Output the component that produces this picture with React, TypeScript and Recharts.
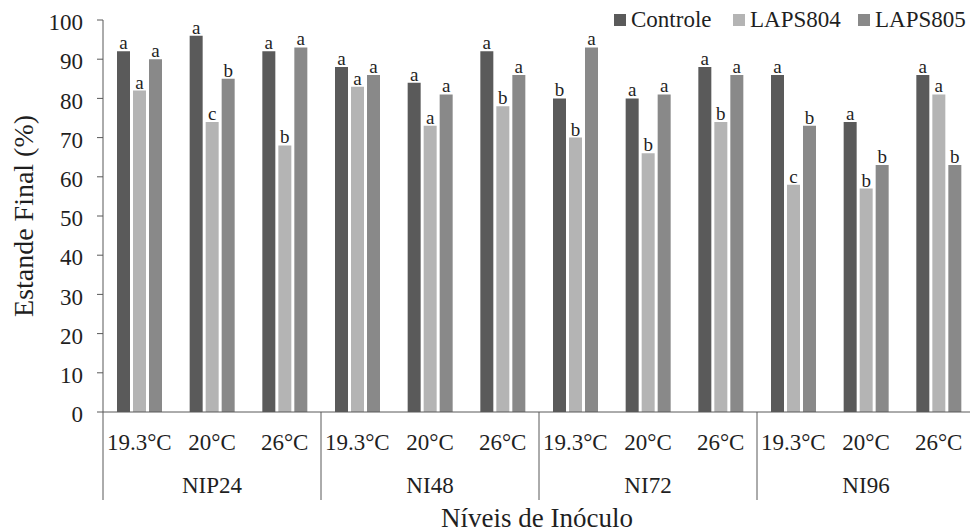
import React from 'react';
import { BarChart, Bar, XAxis, YAxis, LabelList } from 'recharts';

// Temperatures repeated inside each inoculum level
const temperatures = ['19.3°C', '20°C', '26°C'];
const inoculumLevels = ['NIP24', 'NI48', 'NI72', 'NI96'];

// Final stand (%) per treatment, in level/temperature order
const controle = [92, 96, 92, 88, 84, 92, 80, 80, 88, 86, 74, 86];
const laps804 = [82, 74, 68, 83, 73, 78, 70, 66, 74, 58, 57, 81];
const laps805 = [90, 85, 93, 86, 81, 86, 93, 81, 86, 73, 63, 63];

// Significance letters shown above each bar
const controleLetters = ['a', 'a', 'a', 'a', 'a', 'a', 'b', 'a', 'a', 'a', 'a', 'a'];
const laps804Letters = ['a', 'c', 'b', 'a', 'a', 'b', 'b', 'b', 'b', 'c', 'b', 'a'];
const laps805Letters = ['a', 'b', 'a', 'a', 'a', 'a', 'a', 'a', 'a', 'b', 'b', 'b'];

const yTicks = [0, 10, 20, 30, 40, 50, 60, 70, 80, 90, 100];

const series = [
  { key: 'controle', name: 'Controle', color: '#5a5a5a', letters: controleLetters },
  { key: 'laps804', name: 'LAPS804', color: '#b4b4b4', letters: laps804Letters },
  { key: 'laps805', name: 'LAPS805', color: '#898989', letters: laps805Letters },
];

const data = inoculumLevels.flatMap((level, li) =>
  temperatures.map((temp, ti) => {
    const i = li * temperatures.length + ti;
    return {
      id: `${level}-${temp}`,
      level,
      temp,
      controle: controle[i],
      laps804: laps804[i],
      laps805: laps805[i],
    };
  })
);

const FONT = '"Liberation Serif", "Times New Roman", serif';
const TEXT = '#1f1f1f';
const AXIS = '#595959';

const CHART_W = 970;
const CHART_H = 524;
const MARGIN = { top: 12, right: 3, left: 0, bottom: 0 };
const Y_AXIS_W = 95;
const X_AXIS_H = 120;
const PLOT_W = CHART_W - MARGIN.left - MARGIN.right - Y_AXIS_W;
const BAND = PLOT_W / data.length;

const CategoryTick = (props: any) => {
  const { x, y, payload } = props;
  const index = payload.index;
  const row = data[index];
  const pos = index % temperatures.length;
  const half = BAND / 2;
  return (
    <g>
      <text x={x} y={y + 38} textAnchor="middle" fontFamily={FONT} fontSize={23} fill={TEXT}>
        {row.temp}
      </text>
      {pos === 1 && (
        <text x={x} y={y + 81} textAnchor="middle" fontFamily={FONT} fontSize={23} fill={TEXT}>
          {row.level}
        </text>
      )}
      {pos === 0 && <line x1={x - half} x2={x - half} y1={y} y2={y + 88} stroke={AXIS} strokeWidth={1} />}
      {index === data.length - 1 && (
        <line x1={x + half} x2={x + half} y1={y} y2={y + 88} stroke={AXIS} strokeWidth={1} />
      )}
    </g>
  );
};

const makeLetterLabel = (letters: string[]) => (props: any) => {
  const { x, y, width, index } = props;
  return (
    <text x={x + width / 2} y={y - 2} textAnchor="middle" fontFamily={FONT} fontSize={19} fill={TEXT}>
      {letters[index]}
    </text>
  );
};

const YTitle = (props: any) => {
  const { viewBox } = props;
  const cx = viewBox.x + 15;
  const cy = viewBox.y + viewBox.height / 2;
  return (
    <text
      x={cx}
      y={cy}
      transform={`rotate(-90, ${cx}, ${cy})`}
      textAnchor="middle"
      dominantBaseline="central"
      fontFamily={FONT}
      fontSize={28}
      fill={TEXT}
    >
      Estande Final (%)
    </text>
  );
};

const XTitle = (props: any) => {
  const { viewBox } = props;
  const cx = viewBox.x + viewBox.width / 2;
  return (
    <text x={cx - 2} y={viewBox.y + 115} textAnchor="middle" fontFamily={FONT} fontSize={27} fill={TEXT}>
      Níveis de Inóculo
    </text>
  );
};

const legendPos = [606, 725, 850];

export default function App() {
  return (
    <div style={{ position: 'relative', width: CHART_W, height: CHART_H, fontFamily: FONT }}>
      <BarChart
        width={CHART_W}
        height={CHART_H}
        data={data}
        margin={MARGIN}
        barSize={13}
        barGap={3}
      >
        <XAxis
          dataKey="id"
          interval={0}
          height={X_AXIS_H}
          tickSize={0}
          tickMargin={0}
          tickLine={false}
          axisLine={{ stroke: AXIS, strokeWidth: 1 }}
          tick={<CategoryTick />}
          label={XTitle}
        />
        <YAxis
          domain={[0, 100]}
          ticks={yTicks}
          interval={0}
          width={Y_AXIS_W}
          tickSize={6}
          tickMargin={14}
          axisLine={{ stroke: AXIS, strokeWidth: 1 }}
          tickLine={{ stroke: AXIS, strokeWidth: 1 }}
          tick={{ fontFamily: FONT, fontSize: 23, fill: TEXT, dy: 2 }}
          label={YTitle}
        />
        {series.map((s) => (
          <Bar key={s.key} dataKey={s.key} name={s.name} fill={s.color} isAnimationActive={false}>
            <LabelList dataKey={s.key} content={makeLetterLabel(s.letters)} />
          </Bar>
        ))}
      </BarChart>
      {series.map((s, i) => (
        <div
          key={s.key}
          style={{
            position: 'absolute',
            left: legendPos[i],
            top: -1,
            display: 'flex',
            alignItems: 'center',
            fontSize: 23,
            color: TEXT,
            whiteSpace: 'nowrap',
          }}
        >
          <span style={{ display: 'inline-block', width: 12, height: 12, background: s.color, marginRight: 5 }} />
          <span>{s.name}</span>
        </div>
      ))}
    </div>
  );
}
